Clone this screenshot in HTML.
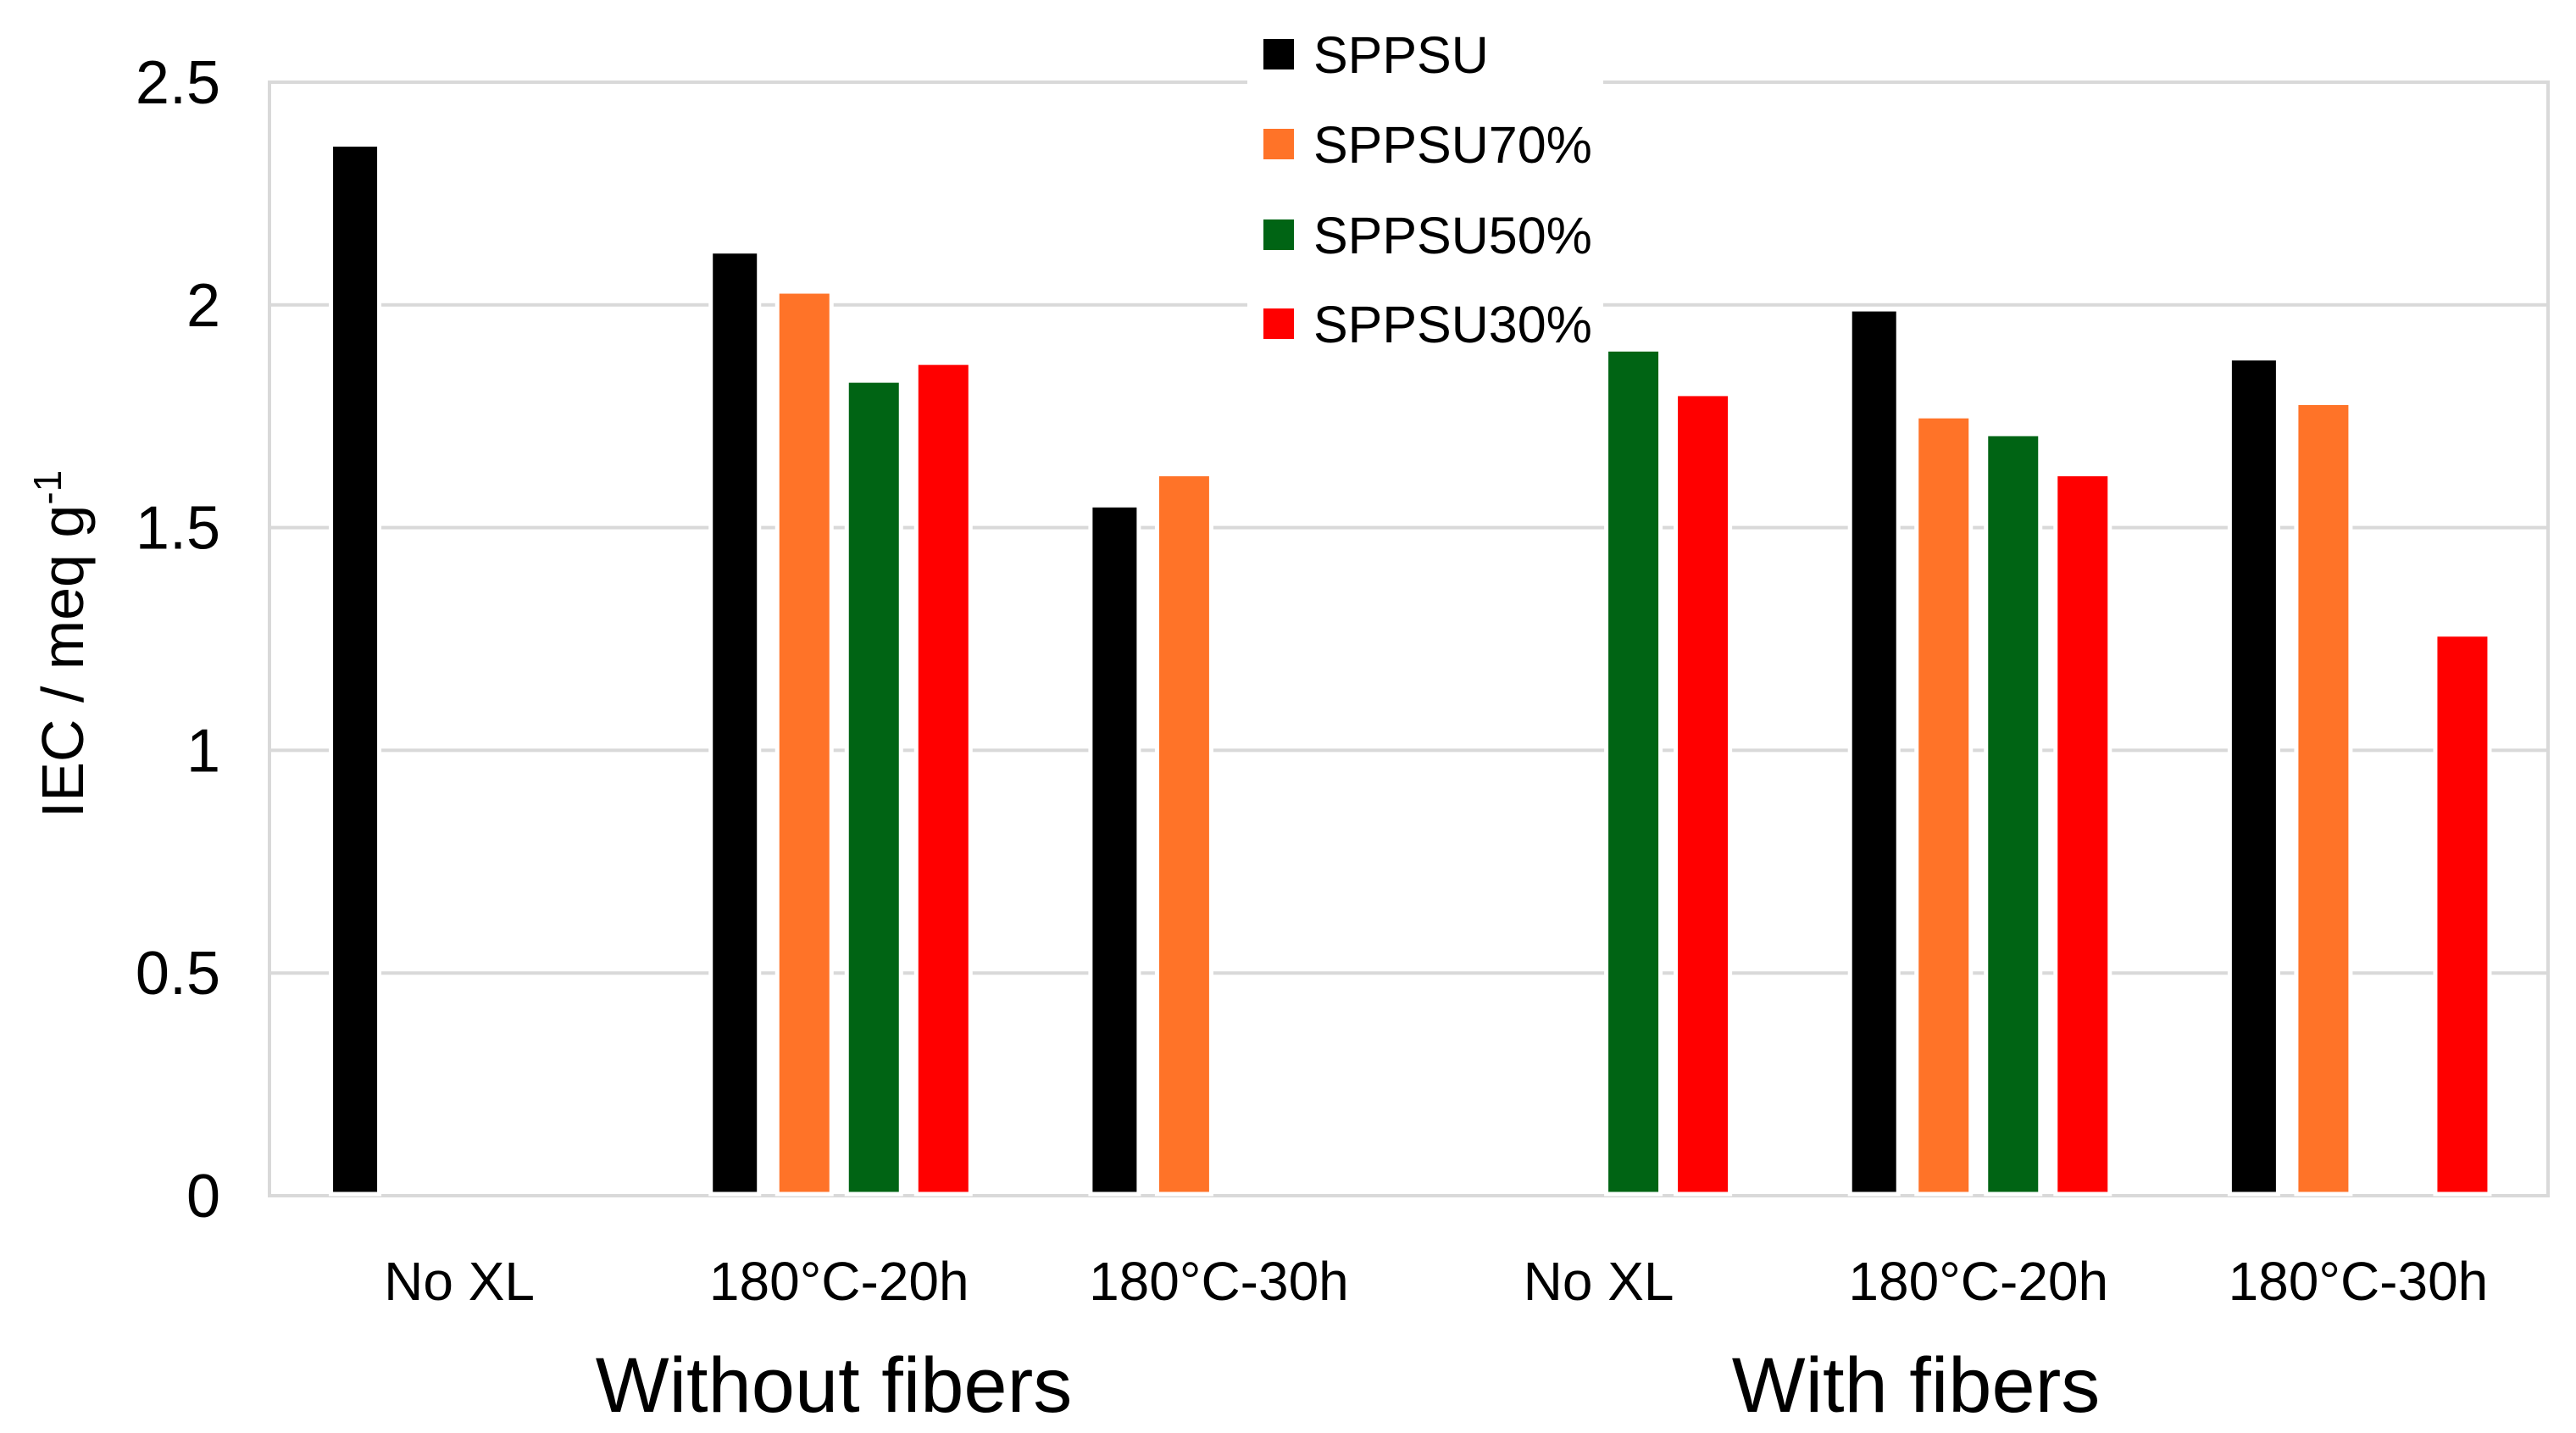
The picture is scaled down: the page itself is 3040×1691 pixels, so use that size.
<!DOCTYPE html>
<html><head><meta charset="utf-8"><style>
html,body{margin:0;padding:0;background:#fff;}
svg{display:block;font-family:"Liberation Sans",Calibri,sans-serif;}
</style></head><body>
<svg id="chart" width="3040" height="1691" viewBox="0 0 3040 1691" xmlns="http://www.w3.org/2000/svg">
<rect x="0" y="0" width="3040" height="1691" fill="#fff"/>
<g id="grid"></g>
<g id="bars"></g>
<g id="yticks"></g>
<g id="xcats"></g>
<text transform="translate(98,760) rotate(-90)" text-anchor="middle" font-size="70" fill="#000">IEC / meq g<tspan baseline-shift="super" font-size="46">-1</tspan></text>
<text x="984" y="1666" text-anchor="middle" font-size="92" fill="#000">Without fibers</text>
<text x="2261" y="1666" text-anchor="middle" font-size="92" fill="#000">With fibers</text>
<g id="legend"></g>
</svg>
<script>
const categories = ["No XL","180°C-20h","180°C-30h","No XL","180°C-20h","180°C-30h"];
const seriesNames = ["SPPSU","SPPSU70%","SPPSU50%","SPPSU30%"];
const seriesColors = ["#000000","#FF7328","#006414","#FF0000"];
const sppsu    = [2.36, 2.12, 1.55, null, 1.99, 1.88];
const sppsu70  = [null, 2.03, 1.62, null, 1.75, 1.78];
const sppsu50  = [null, 1.83, null, 1.90, 1.71, null];
const sppsu30  = [null, 1.87, null, 1.80, 1.62, 1.26];
const yTicks = [0, 0.5, 1, 1.5, 2, 2.5];
const yTickLabels = ["0","0.5","1","1.5","2","2.5"];

const NS="http://www.w3.org/2000/svg";
const L=318, R=3007, T=97, B=1411, yMax=2.5;
const y = v => B - (v / yMax) * (B - T);
const catW = (R - L) / categories.length;
const xc = i => L + catW * (i + 0.5);
function mk(tag, attrs, parent){const e=document.createElementNS(NS,tag);for(const k in attrs)e.setAttribute(k,attrs[k]);parent.appendChild(e);return e;}

const grid=document.getElementById('grid');
yTicks.forEach((t,i)=>{
  if(t===0) return;
  const ln=mk('line',{x1:L,x2:R,y1:y(t),y2:y(t),stroke:'#d9d9d9','stroke-width':4},grid);
  
  
});
const frame=mk('rect',{x:L,y:T,width:R-L,height:B-T,fill:'none',stroke:'#d9d9d9','stroke-width':4},grid);



const yt=document.getElementById('yticks');
yTicks.forEach((t,i)=>{
  const tx=mk('text',{x:260,y:y(t)+25,'text-anchor':'end','font-size':72,fill:'#000'},yt);
  tx.textContent=yTickLabels[i];
  
  
});

const series=[sppsu,sppsu70,sppsu50,sppsu30];
const offsets=[-1.5,-0.5,0.5,1.5];
const slot=catW*0.183;
const bg=document.getElementById('bars');
series.forEach((s,si)=>{
  const w = si===0 ? 57 : 64;
  s.forEach((v,ci)=>{
    if(v===null) return;
    const cx=xc(ci)+offsets[si]*slot;
    const r=mk('rect',{x:cx-w/2,y:y(v),width:w,height:B-y(v)-2,fill:seriesColors[si],stroke:'#fff','stroke-width':5},bg);
    
    
  });
});

const xg=document.getElementById('xcats');
categories.forEach((c,i)=>{
  const tx=mk('text',{x:xc(i),y:1534,'text-anchor':'middle','font-size':64,fill:'#000'},xg);
  tx.textContent=c;
  
  
});

const lg=document.getElementById('legend');
const lbg=mk('rect',{x:1472,y:15,width:420,height:405,fill:'#fff'},lg);


const rowsY=[64,170,277,382];
seriesNames.forEach((n,i)=>{
  const g=mk('g',{},lg);
  
  
  mk('rect',{x:1491,y:rowsY[i]-18,width:36,height:36,fill:seriesColors[i]},g);
  const tx=mk('text',{x:1550,y:rowsY[i]+22,'font-size':61,fill:'#000'},g);
  tx.textContent=n;
});
</script>
</body></html>
